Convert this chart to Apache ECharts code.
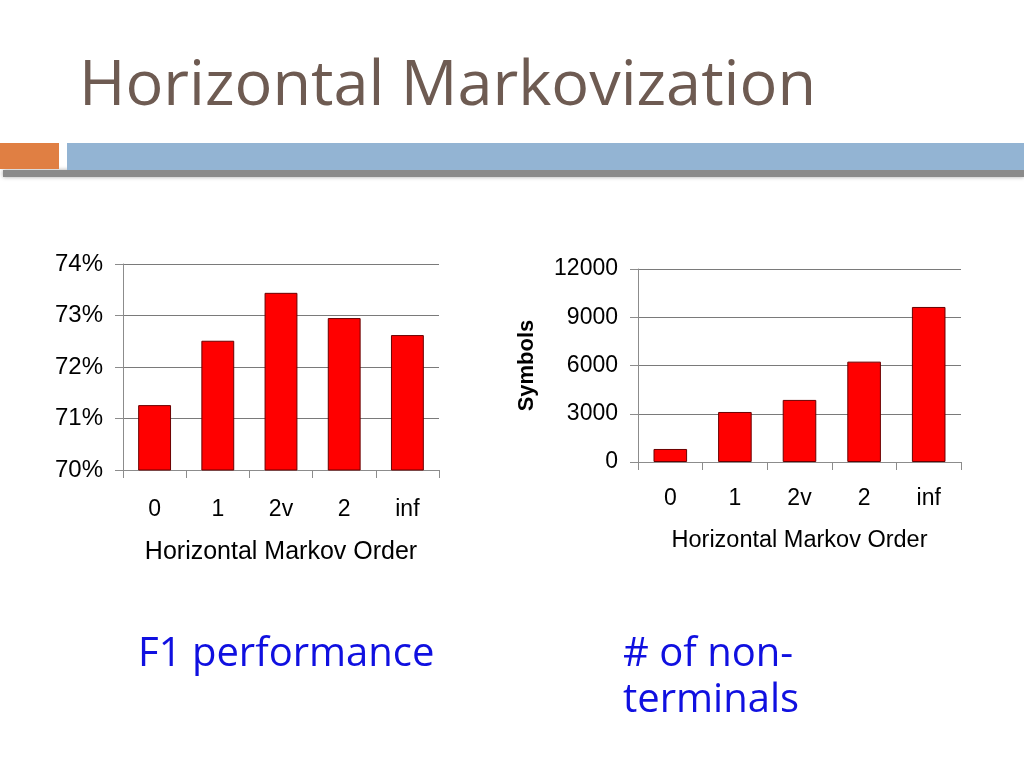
<!DOCTYPE html>
<html>
<head>
<meta charset="utf-8">
<script src="https://cdn.jsdelivr.net/npm/echarts@6/dist/echarts.min.js"></script>
<style>
    html, body { margin: 0; padding: 0; background: #fff; }
    #main { width: 1024px; height: 768px; }
</style>
</head>
<body>
<div id="main"></div>
<script>
    // data
    const orders = ['0', '1', '2v', '2', 'inf'];
    const f1Values = [71.26, 72.51, 73.44, 72.95, 72.62];        // percent
    const symbolValues = [810, 3110, 3860, 6240, 9640];
    const f1Ticks = { min: 70, max: 74, step: 1 };
    const symbolTicks = { min: 0, max: 12000, step: 3000 };

    var chart = echarts.init(document.getElementById('main'), null, {
        width: 1024,
        height: 768
    });

    const axisGray = '#8c8c8c';
    const labelFont = 'Liberation Sans, Arial, sans-serif';

    function catAxis(gridIndex, margin, nameGap, nameSize) {
        return {
            type: 'category',
            gridIndex: gridIndex,
            data: orders,
            boundaryGap: true,
            name: 'Horizontal Markov Order',
            nameLocation: 'middle',
            nameGap: nameGap,
            nameTextStyle: { color: '#000', fontSize: nameSize, fontFamily: labelFont },
            axisLine: { lineStyle: { color: axisGray, width: 1 } },
            axisTick: { show: true, alignWithLabel: false, length: 8, lineStyle: { color: axisGray } },
            axisLabel: { color: '#000', fontSize: 23, fontFamily: labelFont, margin: margin },
            splitLine: { show: false }
        };
    }

    function bar(xi, data) {
        return {
            type: 'bar',
            xAxisIndex: xi,
            yAxisIndex: xi,
            data: data,
            barWidth: '52%',
            itemStyle: { color: '#ff0000', borderColor: '#6a0000', borderWidth: 1 },
            animation: false
        };
    }

    option = {
        backgroundColor: '#fff',
        animation: false,
        grid: [
            { left: 123, right: 585, top: 264, bottom: 298 },
            { left: 638, right: 63, top: 269, bottom: 306 }
        ],
        xAxis: [
            catAxis(0, 28, 70, 25),
            catAxis(1, 25, 67, 23.5)
        ],
        yAxis: [
            {
                type: 'value',
                gridIndex: 0,
                min: f1Ticks.min,
                max: f1Ticks.max,
                interval: f1Ticks.step,
                axisLine: { show: true, lineStyle: { color: axisGray } },
                axisTick: { show: true, length: 8, lineStyle: { color: axisGray } },
                axisLabel: { color: '#000', fontSize: 24, fontFamily: labelFont, margin: 20, formatter: '{value}%' },
                splitLine: { show: true, lineStyle: { color: '#7a7a7a', width: 1 } }
            },
            {
                type: 'value',
                gridIndex: 1,
                min: symbolTicks.min,
                max: symbolTicks.max,
                interval: symbolTicks.step,
                name: 'Symbols',
                nameLocation: 'middle',
                nameRotate: 90,
                nameGap: 100,
                nameTextStyle: { color: '#000', fontSize: 22, fontWeight: 'bold', fontFamily: labelFont },
                axisLine: { show: true, lineStyle: { color: axisGray } },
                axisTick: { show: true, length: 8, lineStyle: { color: axisGray } },
                axisLabel: { color: '#000', fontSize: 23, fontFamily: labelFont, margin: 20,
                             formatter: function (v) { return String(v); } },
                splitLine: { show: true, lineStyle: { color: '#7a7a7a', width: 1 } }
            }
        ],
        graphic: [
            // header band
            { type: 'rect', shape: { x: 3, y: 170, width: 1021, height: 7 },
              style: { fill: '#8a8a8a', shadowBlur: 4, shadowColor: 'rgba(0,0,0,0.35)' }, z: 1 },
            { type: 'rect', shape: { x: 0, y: 143, width: 59, height: 26 },
              style: { fill: '#e07f43' }, z: 2 },
            { type: 'rect', shape: { x: 67, y: 143, width: 957, height: 27 },
              style: { fill: '#93b4d3' }, z: 2 },
            // slide title
            { type: 'text', x: 79, y: 87,
              style: { text: 'Horizontal Markovization', fill: '#6e5b52', fontSize: 63,
                       fontFamily: 'Open Sans', verticalAlign: 'middle' } },
            // captions
            { type: 'text', x: 138, y: 655,
              style: { text: 'F1 performance', fill: '#1010e0', fontSize: 40,
                       fontFamily: 'Open Sans', verticalAlign: 'middle' } },
            { type: 'text', x: 623, y: 632,
              style: { text: '# of non-\nterminals', fill: '#1010e0', fontSize: 40, lineHeight: 46,
                       fontFamily: 'Open Sans', verticalAlign: 'top' } }
        ],
        series: [
            bar(0, f1Values),
            bar(1, symbolValues)
        ]
    };

    chart.setOption(option);
</script>
</body>
</html>
